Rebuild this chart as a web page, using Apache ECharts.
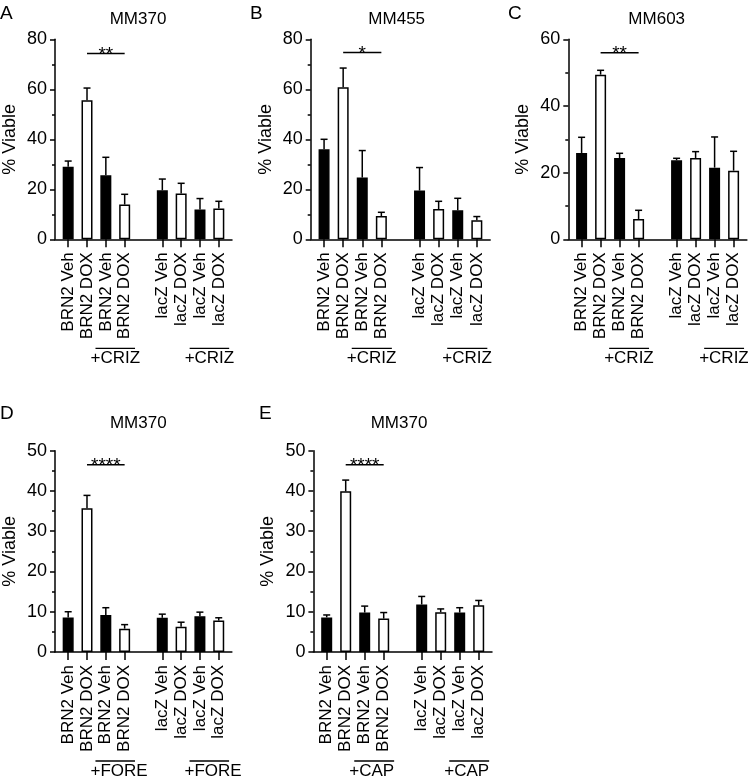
<!DOCTYPE html>
<html>
<head>
<meta charset="utf-8">
<script src="https://cdn.jsdelivr.net/npm/echarts@6/dist/echarts.min.js"></script>
<style>
html,body{margin:0;padding:0;background:#fff;}
#chart{width:748px;height:778px;}
</style>
</head>
<body>
<div id="chart"></div>
<script>
// ---- data ----
const categories = ['BRN2 Veh','BRN2 DOX','BRN2 Veh','BRN2 DOX','lacZ Veh','lacZ DOX','lacZ Veh','lacZ DOX'];
const positions = [1,2,3,4,6,7,8,9];
const barFills = ['#000','#fff','#000','#fff','#000','#fff','#000','#fff'];
const panelLetters = ['A','B','C','D','E'];
const panelTitles = ['MM370','MM455','MM603','MM370','MM370'];
const treatments = ['+CRIZ','+CRIZ','+CRIZ','+FORE','+CAP'];
const treatmentCenters = [3.5, 8.5];

const meansA = [29.0, 55.6, 25.6, 13.9, 19.6, 18.3, 11.9, 12.3];
const errA   = [2.3, 4.9, 7.2, 4.1, 4.5, 4.1, 4.4, 2.9];
const meansB = [36.0, 60.8, 24.7, 9.3, 19.5, 12.1, 11.6, 7.6];
const errB   = [4.0, 7.7, 10.8, 1.5, 9.2, 3.1, 4.8, 1.5];
const meansC = [25.9, 49.4, 24.4, 6.1, 23.7, 24.4, 21.5, 20.6];
const errC   = [4.7, 1.3, 1.4, 2.6, 0.6, 1.9, 9.2, 5.8];
const meansD = [8.6, 35.7, 9.2, 5.8, 8.5, 6.3, 8.9, 7.8];
const errD   = [1.4, 3.2, 1.8, 1.0, 0.9, 1.1, 1.0, 0.7];
const meansE = [8.6, 39.9, 9.8, 8.3, 11.8, 9.9, 9.8, 11.6];
const errE   = [0.6, 2.8, 1.6, 1.5, 2.0, 0.8, 1.2, 1.2];

const yMaxes = [80, 80, 60, 50, 50];
const yIntervals = [20, 20, 20, 10, 10];
const sigLevels = [74.3, 74.7, 56, 46.5, 46.5];
const sigLabels = ['**', '*', '**', '****', '****'];
const sigFrom = 2, sigTo = 4;

const allMeans = [meansA, meansB, meansC, meansD, meansE];
const allErr = [errA, errB, errC, errD, errE];

// ---- layout ----
const FONT = 'Liberation Sans, Arial, Helvetica, sans-serif';
const grids = [
  {left: 53.4, top: 39.3, width: 178.6, height: 200},
  {left: 310.7, top: 39.3, width: 179.5, height: 200},
  {left: 568.3, top: 39.3, width: 178.6, height: 200},
  {left: 53.3, top: 450.7, width: 178.6, height: 201.3},
  {left: 313.4, top: 450.7, width: 178.6, height: 201.3}
];
const letterPos = [[0, 4], [250, 4], [508, 4], [0, 404], [259, 404]];
const titlePos = [[138, 19], [396.7, 19], [656.7, 19], [138.3, 423], [399, 423]];

const option = {
  animation: false,
  backgroundColor: '#fff',
  textStyle: {fontFamily: FONT, color: '#000'},
  grid: grids.map(g => Object.assign({containLabel: false}, g)),
  xAxis: grids.map((g, i) => ({
    type: 'value', gridIndex: i, min: 0.3, max: 9.7,
    splitLine: {show: false},
    axisLine: {show: true, onZero: false, lineStyle: {color: '#000', width: 1.5}},
    axisTick: {show: true, customValues: positions, length: 8, lineStyle: {color: '#000', width: 1.5}},
    minorTick: {show: false},
    axisLabel: {
      customValues: positions, rotate: 90, margin: 13, fontSize: 17, color: '#000', fontFamily: FONT,
      formatter: v => categories[positions.indexOf(Math.round(v))] || ''
    }
  })),
  yAxis: grids.map((g, i) => ({
    type: 'value', gridIndex: i, min: 0, max: yMaxes[i], interval: yIntervals[i],
    name: '% Viable', nameLocation: 'middle', nameGap: 36, nameRotate: 90,
    nameTextStyle: {fontSize: 18, color: '#000', fontFamily: FONT},
    splitLine: {show: false},
    axisLine: {show: true, onZero: false, lineStyle: {color: '#000', width: 1.5}},
    axisTick: {show: true, length: 5, lineStyle: {color: '#000', width: 1.5}},
    minorTick: {show: true, splitNumber: 2, length: 3, lineStyle: {color: '#000', width: 1.5}},
    axisLabel: {fontSize: 18, margin: 8, color: '#000', fontFamily: FONT}
  })),
  graphic: [],
  series: []
};

panelLetters.forEach((L, i) => {
  option.graphic.push({type: 'text', left: letterPos[i][0], top: letterPos[i][1],
    style: {text: L, fontSize: 19, fill: '#000', fontFamily: FONT}});
  option.graphic.push({type: 'text', x: titlePos[i][0], y: titlePos[i][1],
    style: {text: panelTitles[i], fontSize: 17, fill: '#000', fontFamily: FONT, align: 'center', verticalAlign: 'middle'}});
});

allMeans.forEach((means, i) => {
  // bars
  option.series.push({
    type: 'bar', xAxisIndex: i, yAxisIndex: i, barWidth: 11,
    data: means.map((m, k) => ({value: [positions[k], m], itemStyle: {color: barFills[k], borderColor: '#000', borderWidth: 1.5}})),
    z: 2
  });
  // error bars
  option.series.push({
    type: 'custom', xAxisIndex: i, yAxisIndex: i, z: 3,
    data: means.map((m, k) => [positions[k], m, m + allErr[i][k]]),
    renderItem: (params, api) => {
      const p0 = api.coord([api.value(0), api.value(1)]);
      const p1 = api.coord([api.value(0), api.value(2)]);
      const st = {stroke: '#000', lineWidth: 1.5};
      return {type: 'group', children: [
        {type: 'line', shape: {x1: p0[0], y1: p0[1], x2: p1[0], y2: p1[1]}, style: st},
        {type: 'line', shape: {x1: p1[0] - 3.5, y1: p1[1], x2: p1[0] + 3.5, y2: p1[1]}, style: st}
      ]};
    }
  });
  // significance bar
  option.series.push({
    type: 'custom', xAxisIndex: i, yAxisIndex: i, z: 3, clip: false,
    data: [[sigFrom, sigTo, sigLevels[i]]],
    renderItem: (params, api) => {
      const a = api.coord([api.value(0), api.value(2)]);
      const b = api.coord([api.value(1), api.value(2)]);
      return {type: 'group', children: [
        {type: 'line', shape: {x1: a[0], y1: a[1], x2: b[0], y2: b[1]}, style: {stroke: '#000', lineWidth: 1.5}},
        {type: 'text', x: (a[0] + b[0]) / 2, y: a[1] + 1,
          style: {text: sigLabels[i], fontSize: 19, fill: '#000', fontFamily: FONT, align: 'center', verticalAlign: 'middle'}}
      ]};
    }
  });
  // treatment annotations
  option.series.push({
    type: 'custom', xAxisIndex: i, yAxisIndex: i, z: 3, clip: false,
    data: treatmentCenters.map(c => [c, 0]),
    renderItem: (params, api) => {
      const c = api.coord([api.value(0), 0]);
      const l = api.coord([api.value(0) - 1.05, 0]);
      const r = api.coord([api.value(0) + 1.05, 0]);
      const yLine = c[1] + 109;
      return {type: 'group', children: [
        {type: 'line', shape: {x1: l[0], y1: yLine, x2: r[0], y2: yLine}, style: {stroke: '#000', lineWidth: 1.3}},
        {type: 'text', x: l[0] - 5, y: yLine + 10.5,
          style: {text: treatments[i], fontSize: 17, fill: '#000', fontFamily: FONT, align: 'left', verticalAlign: 'middle'}}
      ]};
    }
  });
});

const chart = echarts.init(document.getElementById('chart'), null, {renderer: 'canvas'});
chart.setOption(option);
</script>
</body>
</html>
